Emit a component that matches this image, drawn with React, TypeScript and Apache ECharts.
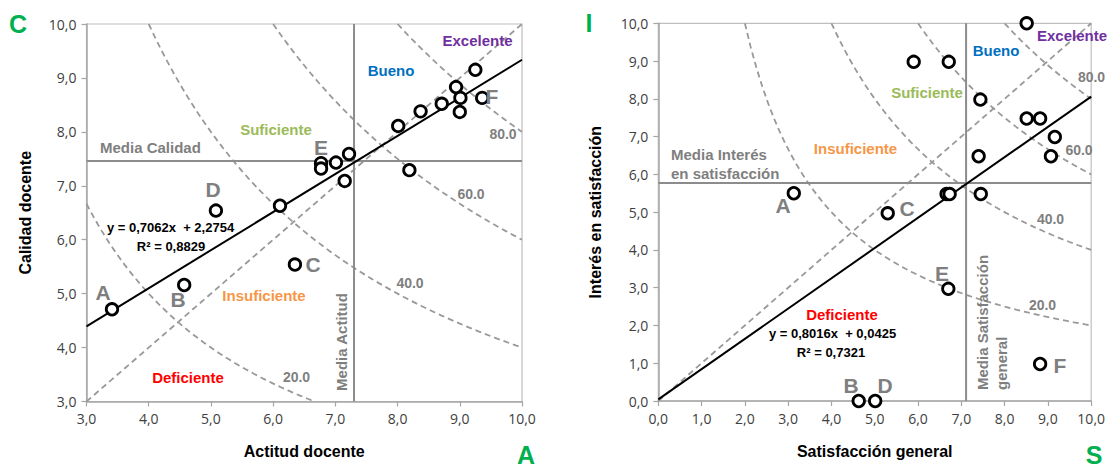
import React, { useEffect, useRef } from "react";
import * as echarts from "echarts";

// ---- Data ----
const leftPoints: number[][] = [
  [3.41, 4.71], [4.57, 5.16], [5.08, 6.54], [6.11, 6.63], [6.35, 5.54],
  [6.77, 7.42], [6.77, 7.32], [7.01, 7.43], [7.22, 7.59], [7.15, 7.09],
  [8.01, 8.11], [8.37, 8.38], [8.71, 8.52], [8.94, 8.83], [9.01, 8.63],
  [9.0, 8.37], [9.25, 9.15], [9.36, 8.63], [8.19, 7.29],
];
const rightPoints: number[][] = [
  [3.13, 5.5], [4.63, 0], [5.01, 0], [5.3, 4.97], [6.7, 2.97], [8.82, 0.98],
  [8.51, 10], [5.9, 8.98], [6.71, 8.98], [7.44, 7.98], [8.51, 7.48], [8.82, 7.48],
  [9.16, 6.99], [9.07, 6.48], [7.4, 6.48], [6.66, 5.48], [6.73, 5.48], [7.45, 5.48],
];
const leftFit = { slope: 0.7062, intercept: 2.2754 };
const rightFit = { slope: 0.8016, intercept: 0.0425 };
const leftMeans = { x: 7.3, y: 7.46 };
const rightMeans = { x: 7.11, y: 5.77 };
const isoLevels = [20, 40, 60, 80];
const leftRange = { xmin: 3, xmax: 10, ymin: 3, ymax: 10 };
const rightRange = { xmin: 0, xmax: 10, ymin: 0, ymax: 10 };

const fmt = (v: number) => v.toFixed(1).replace(".", ",");

function isoCurve(k: number, r: { xmin: number; xmax: number; ymin: number; ymax: number }) {
  const x0 = Math.max(r.xmin, k / r.ymax);
  const x1 = Math.min(r.xmax, k / r.ymin);
  const pts: number[][] = [];
  const n = 60;
  for (let i = 0; i <= n; i++) {
    const x = x0 + ((x1 - x0) * i) / n;
    pts.push([x, k / x]);
  }
  return pts;
}

const GRAY = "#7f7f7f";
const SANS = "Liberation Sans, Arial, sans-serif";
const TICKFONT = "Open Sans, sans-serif";

function axisCommon() {
  return {
    type: "value" as const,
    interval: 1,
    splitLine: { show: false },
    axisLine: { show: true, lineStyle: { color: "#a6a6a6", width: 1.5 } },
    axisTick: { show: true, length: 5, lineStyle: { color: "#a6a6a6", width: 1.2 } },
    axisLabel: { formatter: fmt, color: "#404040", fontSize: 14, fontFamily: TICKFONT, margin: 10 },
    nameLocation: "middle" as const,
    nameTextStyle: { color: "#000", fontSize: 16, fontWeight: "bold" as const, fontFamily: SANS },
  };
}

function txt(text: string, x: number, y: number, color: string, fontSize: number, extra: any = {}) {
  return {
    type: "text",
    x,
    y,
    z: 100,
    style: {
      text,
      fill: color,
      fontSize,
      fontWeight: "bold",
      fontFamily: SANS,
      align: "center",
      verticalAlign: "middle",
      ...(extra.style || {}),
    },
    ...(extra.el || {}),
  };
}

function buildSeries(gi: number, pts: number[][], fit: { slope: number; intercept: number }, means: { x: number; y: number }, r: any) {
  const s: any[] = [];
  isoLevels.forEach((k) => {
    s.push({
      type: "line",
      xAxisIndex: gi,
      yAxisIndex: gi,
      data: isoCurve(k, r),
      showSymbol: false,
      symbol: "none",
      lineStyle: { color: "#999999", width: 1.8, type: [6, 4] },
      silent: true,
      z: 2,
    });
  });
  s.push({
    type: "line",
    xAxisIndex: gi,
    yAxisIndex: gi,
    data: [[r.xmin, r.xmin], [r.xmax, r.xmax]],
    symbol: "none",
    lineStyle: { color: "#999999", width: 1.8, type: [6, 4] },
    z: 2,
  });
  s.push({
    type: "line",
    xAxisIndex: gi,
    yAxisIndex: gi,
    data: [[means.x, r.ymin], [means.x, r.ymax]],
    symbol: "none",
    lineStyle: { color: "#8c8c8c", width: 2 },
    z: 3,
  });
  s.push({
    type: "line",
    xAxisIndex: gi,
    yAxisIndex: gi,
    data: [[r.xmin, means.y], [r.xmax, means.y]],
    symbol: "none",
    lineStyle: { color: "#8c8c8c", width: 2 },
    z: 3,
  });
  s.push({
    type: "line",
    xAxisIndex: gi,
    yAxisIndex: gi,
    data: [
      [r.xmin, fit.slope * r.xmin + fit.intercept],
      [r.xmax, fit.slope * r.xmax + fit.intercept],
    ],
    symbol: "none",
    lineStyle: { color: "#000", width: 2 },
    z: 4,
  });
  s.push({
    type: "scatter",
    xAxisIndex: gi,
    yAxisIndex: gi,
    data: pts,
    symbol: "circle",
    symbolSize: 11.5,
    itemStyle: { color: "#ffffff", borderColor: "#000", borderWidth: 2.8, opacity: 1 },
    z: 10,
  });
  return s;
}

export default function App() {
  const ref = useRef<HTMLDivElement>(null);
  useEffect(() => {
    if (!ref.current) return;
    const chart = echarts.init(ref.current, null, { renderer: "svg" });
    const option: any = {
      animation: false,
      grid: [
        { left: 86.5, top: 24, width: 435.5, height: 377.5, show: true, borderColor: "#bfbfbf", borderWidth: 1.2, backgroundColor: "transparent" },
        { left: 658.3, top: 23.3, width: 435, height: 377.7, show: true, borderColor: "#bfbfbf", borderWidth: 1.2, backgroundColor: "transparent" },
      ],
      xAxis: [
        { ...axisCommon(), gridIndex: 0, min: leftRange.xmin, max: leftRange.xmax, name: "Actitud docente", nameGap: 42 },
        { ...axisCommon(), gridIndex: 1, min: rightRange.xmin, max: rightRange.xmax, name: "Satisfacción general", nameGap: 42 },
      ],
      yAxis: [
        { ...axisCommon(), gridIndex: 0, min: leftRange.ymin, max: leftRange.ymax, name: "Calidad docente", nameGap: 53 },
        { ...axisCommon(), gridIndex: 1, min: rightRange.ymin, max: rightRange.ymax, name: "Interés en satisfacción", nameGap: 55 },
      ],
      series: [
        ...buildSeries(0, leftPoints, leftFit, leftMeans, leftRange),
        ...buildSeries(1, rightPoints, rightFit, rightMeans, rightRange),
      ],
      graphic: [
        // corner letters
        txt("C", 18, 24, "#00b050", 25),
        txt("A", 526, 455, "#00b050", 25),
        txt("I", 589, 23, "#00b050", 25),
        txt("S", 1094, 455, "#00b050", 25),
        // left chart zones
        txt("Excelente", 477.5, 40, "#7030a0", 15),
        txt("Bueno", 391, 70, "#0070c0", 15),
        txt("Suficiente", 276, 129, "#9bbb59", 15),
        txt("Insuficiente", 264, 295, "#f79646", 15),
        txt("Deficiente", 188, 377, "#ff0000", 15),
        txt("Media Calidad", 100, 147, GRAY, 15, { style: { align: "left" } }),
        txt("Media Actitud", 341, 342, GRAY, 15, { el: { rotation: Math.PI / 2 } }),
        txt("y = 0,7062x  + 2,2754", 170.5, 227, "#000", 13),
        txt("R² = 0,8829", 171, 246, "#000", 13),
        txt("20.0", 296.5, 377, GRAY, 14),
        txt("40.0", 410, 283, GRAY, 14),
        txt("60.0", 471, 194, GRAY, 14),
        txt("80.0", 503, 134, GRAY, 14),
        txt("A", 103, 292, GRAY, 21),
        txt("B", 178, 299, GRAY, 21),
        txt("C", 313, 264, GRAY, 21),
        txt("D", 213, 189, GRAY, 21),
        txt("E", 321, 147, GRAY, 21),
        txt("F", 492, 96, GRAY, 21),
        // right chart zones
        txt("Excelente", 1072, 35, "#7030a0", 15),
        txt("Bueno", 996, 50, "#0070c0", 15),
        txt("Suficiente", 927, 92, "#9bbb59", 15),
        txt("Insuficiente", 855.5, 148, "#f79646", 15),
        txt("Deficiente", 842, 314, "#ff0000", 15),
        txt("Media Interés", 671, 154, GRAY, 15, { style: { align: "left" } }),
        txt("en satisfacción", 671, 173, GRAY, 15, { style: { align: "left" } }),
        txt("Media Satisfacción", 982, 390, GRAY, 15, { style: { align: "left" }, el: { rotation: Math.PI / 2 } }),
        txt("general", 1001, 390, GRAY, 15, { style: { align: "left" }, el: { rotation: Math.PI / 2 } }),
        txt("y = 0,8016x  + 0,0425", 832.5, 333, "#000", 13),
        txt("R² = 0,7321", 831, 352, "#000", 13),
        txt("20.0", 1042.5, 305, GRAY, 14),
        txt("40.0", 1050.5, 219, GRAY, 14),
        txt("60.0", 1079, 150, GRAY, 14),
        txt("80.0", 1091.5, 77, GRAY, 14),
        txt("A", 783, 205, GRAY, 21),
        txt("B", 851, 385, GRAY, 21),
        txt("C", 907, 208, GRAY, 21),
        txt("D", 885, 385, GRAY, 21),
        txt("E", 942, 273, GRAY, 21),
        txt("F", 1060, 365, GRAY, 21),
      ],
    };
    chart.setOption(option);
    return () => chart.dispose();
  }, []);
  return <div ref={ref} style={{ position: "absolute", left: 0, top: 0, width: 1108, height: 470 }} />;
}
